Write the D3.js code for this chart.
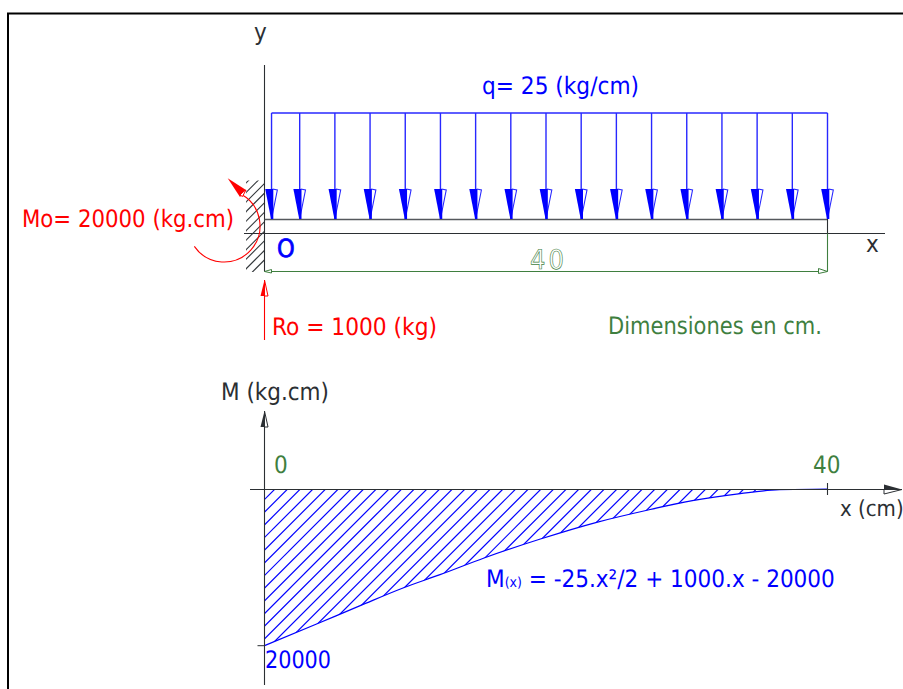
<!DOCTYPE html>
<html><head><meta charset="utf-8">
<script src="https://cdn.jsdelivr.net/npm/d3@7"></script>
<style>
html,body{margin:0;padding:0;background:#fff;overflow:hidden}
text{font-family:"DejaVu Sans";font-stretch:condensed;text-rendering:geometricPrecision}
</style></head><body>
<script>
// Data
const loadPositions = [0.5, 2.5, 5, 7.5, 10, 12.5, 15, 17.5, 20, 22.5, 25, 27.5, 30, 32.5, 35, 37.5, 40];
const curveX = [0, 3.7, 6.8, 9.84, 12.47, 15.6, 19.6, 23.6, 27.1, 30.4, 33.8, 36.6, 40];
const curveM = [-20000, -17230, -14890, -12630, -10935, -8800, -6380, -4250, -2740, -1490, -600, -90, 0];
const beamLength = 40;
const momentTicks = [0, -20000];

const W = 903, H = 689;
const BLUE = "#0000ff", LOAD = "#2828ff", RED = "#ff0000", GREEN = "#3f7f3f", DARK = "#2b2f33";
const FS = 24;

const svg = d3.select("body").append("svg").attr("width", W).attr("height", H)
  .style("display", "block");

const x = d3.scaleLinear().domain([0, beamLength]).range([264.5, 827.5]);
const yM = d3.scaleLinear().domain([-20000, 0]).range([645.7, 489]);

function ln(a, b, c, d, col, w) {
  return svg.append("line").attr("x1", a).attr("y1", b).attr("x2", c).attr("y2", d)
    .attr("stroke", col).attr("stroke-width", w || 1);
}
function poly(pts, fill, stroke, w) {
  return svg.append("polygon").attr("points", pts.map(p => p.join(",")).join(" "))
    .attr("fill", fill).attr("stroke", stroke || "none").attr("stroke-width", w || 1);
}
function label(s, px, py, size, col, len) {
  const t = svg.append("text").attr("x", px).attr("y", py).attr("font-size", size)
    .attr("fill", col).text(s);
  if (len) t.attr("textLength", len).attr("lengthAdjust", "spacingAndGlyphs");
  return t;
}

// Frame
svg.append("path").attr("d", `M8,${H}V13.5H${W}`).attr("fill", "none").attr("stroke", "#000").attr("stroke-width", 2);

// Wall hatching
const defs = svg.append("defs");
defs.append("clipPath").attr("id", "wall").append("rect")
  .attr("x", 246).attr("y", 180.5).attr("width", 18.5).attr("height", 91.5);
svg.append("g").attr("clip-path", "url(#wall)").selectAll("line")
  .data(d3.range(429, 530, 9.54)).join("line")
  .attr("x1", c => 240).attr("y1", c => c - 240)
  .attr("x2", c => 270).attr("y2", c => c - 270)
  .attr("stroke", "#33373b").attr("stroke-width", 1.1);

// Upper axes and beam
ln(264.5, 65, 264.5, 271.5, DARK, 1.1);
ln(244, 233.5, 885, 233.5, DARK, 1.1);
ln(x(0), 219.5, x(40), 219.5, "#55585c", 1.4);
ln(x(40), 219, x(40), 233, DARK, 1.1);
ln(x(40), 233.5, x(40), 271, GREEN, 1.1);

// Dimension line
ln(x(0), 271.5, x(40), 271.5, GREEN, 1.1);
poly([[x(0), 271.5], [x(0) + 7, 269.5], [x(0) + 7, 273]], "#fff", GREEN, 1);
poly([[x(40), 271.5], [x(40) - 9, 268.5], [x(40) - 9, 273.5]], "#fff", GREEN, 1);

// Distributed load
ln(x(loadPositions[0]), 113, x(40), 113, LOAD, 1.4);
const arrows = svg.append("g").selectAll("g").data(loadPositions).join("g")
  .attr("transform", d => `translate(${x(d)},0)`);
arrows.append("line").attr("y1", 113).attr("y2", 219).attr("stroke", LOAD).attr("stroke-width", 1.4);
arrows.append("path").attr("d", "M0,219L5.8,190L1,189").attr("fill", "#fff").attr("stroke", LOAD).attr("stroke-width", 1.1);
arrows.append("path").attr("d", "M-6.3,189H1.8V219H-0.5Z").attr("fill", BLUE);

// Reaction moment
const arc = d3.arc().innerRadius(36).outerRadius(36).startAngle(0.496).endAngle(4.11);
svg.append("path").attr("d", arc()).attr("transform", "translate(224,226)")
  .attr("fill", "none").attr("stroke", RED).attr("stroke-width", 1.1);
poly([[227.7, 178.3], [246, 190], [240, 197]], RED);
poly([[243, 192], [246, 190], [242.5, 196.5], [240, 195]], "#fff", RED, 1);

// Reaction force
ln(264.5, 296, 264.5, 340, RED, 1.1);
poly([[264.5, 280], [260.5, 296], [264.5, 296]], RED);
poly([[264.5, 280], [268, 296], [264.5, 296]], "#fff", RED, 1);

// Moment diagram
const pts = curveX.map((c, i) => [x(c), yM(curveM[i])]);
const line = d3.line().x(d => d[0]).y(d => d[1]).curve(d3.curveMonotoneX);
const area = d3.area().x(d => d[0]).y0(yM(0)).y1(d => d[1]).curve(d3.curveMonotoneX);
defs.append("clipPath").attr("id", "diagram").append("path").attr("d", area(pts));
svg.append("g").attr("clip-path", "url(#diagram)").selectAll("line")
  .data(d3.range(764 - 12.67, 1340, 12.67)).join("line")
  .attr("x1", c => 250).attr("y1", c => c - 250)
  .attr("x2", c => 850).attr("y2", c => c - 850)
  .attr("stroke", BLUE).attr("stroke-width", 1.2);
svg.append("path").attr("d", line(pts)).attr("fill", "none").attr("stroke", BLUE).attr("stroke-width", 1.2);

// Lower axes
ln(264.5, 425, 264.5, 685, DARK, 1.1);
ln(250, yM(0) + 0.5, 884, yM(0) + 0.5, DARK, 1.1);
ln(x(40), yM(0) - 6, x(40), yM(0) + 6, DARK, 1.1);
ln(257.5, yM(momentTicks[1]), 264.5, yM(momentTicks[1]), DARK, 1);
poly([[264.5, 411], [260.5, 427], [264.5, 427]], DARK);
poly([[264.5, 411], [268, 427], [264.5, 427]], "#fff", DARK, 1);
poly([[902, 489.5], [884, 484.5], [884, 489.5]], DARK);
poly([[902, 489.5], [884, 494], [884, 489.5]], "#fff", DARK, 1);

// Text
label("y", 254, 40, FS, DARK);
label("q= 25 (kg/cm)", 482, 94, FS, BLUE, 157);
label("Mo= 20000 (kg.cm)", 22, 227, FS, RED, 212);
label("O", 277, 257, 25, BLUE).attr("stroke", BLUE).attr("stroke-width", 0.7);
label("x", 866, 252, FS, DARK);
label("40", 530, 269, 27, "none").attr("stroke", GREEN).attr("stroke-width", 0.6).attr("letter-spacing", 3);
label("Ro = 1000 (kg)", 272, 335, FS, RED, 165);
label("Dimensiones en cm.", 608, 334, FS, GREEN, 214);
label("M (kg.cm)", 221, 400, FS, DARK, 108);
label("0", 274, 473, FS, GREEN);
label("40", 813, 473, FS, GREEN);
label("x (cm)", 840, 516, 22, DARK);
label("20000", 265, 668, FS, BLUE, 66);
const f = label("M", 486, 587, FS, BLUE);
f.append("tspan").attr("font-size", 14).text("(x)");
f.append("tspan").text(" = -25.x²/2 + 1000.x - 20000");
</script>
</body></html>
